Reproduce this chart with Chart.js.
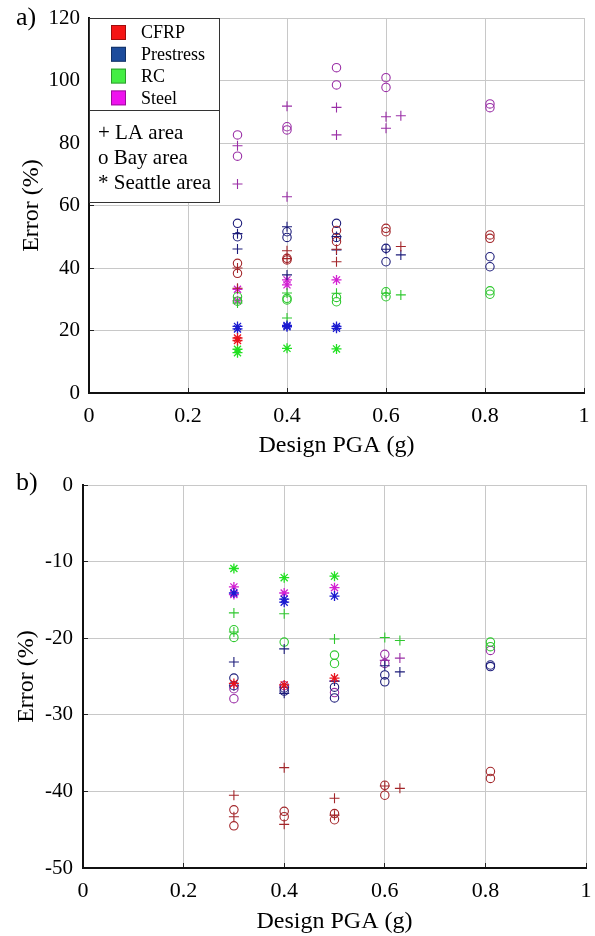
<!DOCTYPE html>
<html>
<head>
<meta charset="utf-8">
<script src="https://cdn.jsdelivr.net/npm/chart.js@4.4.0/dist/chart.umd.min.js"></script>
<style>
    body { margin: 0; background: #fff; }
    #wrap { position: relative; width: 595px; height: 936px; overflow: hidden; }
    canvas { position: absolute; left: 0; }
    #chartA { top: 0; }
    #chartB { top: 470px; }
    .panel { position: absolute; left: 16px; font-family: "Liberation Serif", "Times New Roman", serif; font-size: 26px; line-height: 1; color: #000; }
</style>
</head>
<body>
<div id="wrap">
    <canvas id="chartA" width="595" height="470"></canvas>
    <canvas id="chartB" width="595" height="466"></canvas>
    <div class="panel" style="top:4px">a)</div>
    <div class="panel" style="top:469px">b)</div>
</div>
<script>
// 軸刻度
const pgaTicks = [0, 0.2, 0.4, 0.6, 0.8, 1];
const errorTicksA = [0, 20, 40, 60, 80, 100, 120];
const errorTicksB = [-50, -40, -30, -20, -10, 0];

// 類別
const materials = ['CFRP', 'Prestress', 'RC', 'Steel'];
const areaLabels = ['+ LA area', 'o Bay area', '* Seattle area'];

// a) 誤差 (%) — [Design PGA, Error]
const aCfrpLA = [[0.3, 40], [0.3, 33.5], [0.4, 45.5], [0.4, 43], [0.5, 42], [0.5, 46], [0.63, 46.9]];
const aCfrpBay = [[0.3, 41.5], [0.3, 38.3], [0.4, 43.1], [0.4, 42.6], [0.5, 52], [0.5, 48.5], [0.6, 52.7], [0.6, 51.6], [0.81, 50.6], [0.81, 49.5]];
const aCfrpSea = [[0.3, 17.6], [0.3, 16.8]];
const aPreLA = [[0.3, 51], [0.3, 46.1], [0.4, 53.2], [0.4, 37.8], [0.5, 50.1], [0.5, 45.8], [0.6, 46], [0.63, 44.2]];
const aPreBay = [[0.3, 54.3], [0.3, 50], [0.4, 51.6], [0.4, 49.8], [0.5, 54.3], [0.5, 49.8], [0.6, 46.3], [0.6, 42], [0.81, 43.6], [0.81, 40.4]];
const aPreSea = [[0.3, 20.5], [0.3, 21.3], [0.4, 21.2], [0.4, 21.6], [0.5, 20.7], [0.5, 21.3]];
const aRcLA = [[0.3, 28.8], [0.4, 32], [0.4, 24], [0.5, 31.9], [0.6, 31.9], [0.63, 31.4]];
const aRcBay = [[0.3, 30.8], [0.3, 29.4], [0.4, 29.8], [0.4, 30.3], [0.5, 29.2], [0.5, 30.6], [0.6, 32.4], [0.6, 30.8], [0.81, 32.7], [0.81, 31.6]];
const aRcSea = [[0.3, 12.9], [0.3, 14], [0.4, 14.3], [0.5, 14.1]];
const aSteelLA = [[0.3, 79.1], [0.3, 66.9], [0.4, 91.8], [0.4, 62.8], [0.5, 91.4], [0.5, 82.6], [0.6, 88.4], [0.6, 84.7], [0.63, 88.7]];
const aSteelBay = [[0.3, 82.6], [0.3, 75.8], [0.4, 85.2], [0.4, 84.2], [0.5, 104.1], [0.5, 98.6], [0.6, 100.9], [0.6, 97.8], [0.81, 92.5], [0.81, 91.3]];
const aSteelSea = [[0.3, 33.2], [0.3, 29.5], [0.4, 36.2], [0.4, 34.6], [0.5, 36.2]];

// b) 誤差 (%)
const bCfrpLA = [[0.3, -40.5], [0.3, -43.3], [0.4, -36.9], [0.4, -44.3], [0.5, -40.9], [0.5, -43.1], [0.6, -39.3], [0.63, -39.6]];
const bCfrpBay = [[0.3, -42.4], [0.3, -44.5], [0.4, -42.6], [0.4, -43.3], [0.5, -42.9], [0.5, -43.7], [0.6, -39.2], [0.6, -40.5], [0.81, -37.4], [0.81, -38.3]];
const bCfrpSea = [[0.3, -25.9], [0.4, -26.1], [0.5, -25.2]];
const bPreLA = [[0.3, -23.1], [0.4, -27.2], [0.4, -21.4], [0.5, -25.6], [0.6, -23.6], [0.63, -24.4]];
const bPreBay = [[0.3, -25.2], [0.3, -26.2], [0.4, -26.5], [0.4, -26.9], [0.5, -26.4], [0.5, -27.8], [0.6, -24.8], [0.6, -25.7], [0.81, -23.5], [0.81, -23.7]];
const bPreSea = [[0.3, -14.1], [0.4, -14.9], [0.4, -15.3], [0.5, -14.5]];
const bRcLA = [[0.3, -16.7], [0.3, -19.2], [0.4, -16.8], [0.5, -20.1], [0.6, -19.9], [0.63, -20.3]];
const bRcBay = [[0.3, -18.9], [0.3, -19.9], [0.4, -20.5], [0.5, -22.2], [0.5, -23.3], [0.81, -20.5], [0.81, -21.1]];
const bRcSea = [[0.3, -10.9], [0.4, -12.1], [0.5, -11.9]];
const bSteelLA = [[0.3, -26.2], [0.4, -26.4], [0.5, -25.6], [0.6, -22.9], [0.63, -22.6]];
const bSteelBay = [[0.3, -26.6], [0.3, -27.9], [0.4, -26.2], [0.5, -27.1], [0.6, -22.1], [0.6, -23.3], [0.81, -21.6]];
const bSteelSea = [[0.3, -13.3], [0.3, -14.3], [0.4, -14.1], [0.5, -13.4]];

// 顏色
const legendColors = ['#f51515', '#1d4c9c', '#44ee44', '#ee12ee'];
const markColors = ['#a3262a', '#1c1c7a', '#2ec82e', '#9a2fa6'];
const starColors = ['#e8141c', '#1a1ad0', '#22e022', '#d21fd2'];
const pointStyles = ['cross', 'circle', 'star'];

const serif = '"Liberation Serif", "Times New Roman", serif';

function buildDatasets(groups) {
    const sets = [];
    groups.forEach((group, i) => {
        group.forEach((pts, j) => {
            const color = j === 2 ? starColors[i] : markColors[i];
            sets.push({
                label: materials[i] + ' ' + areaLabels[j],
                data: pts.map(p => ({ x: p[0], y: p[1] })),
                pointStyle: pointStyles[j],
                pointRadius: j === 1 ? 4.2 : 5,
                borderColor: color,
                backgroundColor: 'rgba(0,0,0,0)',
                pointBorderWidth: j === 2 ? 1.3 : 1.1,
                showLine: false
            });
        });
    });
    return sets;
}

// 圖例 (只畫在 a 圖)
const boxLegend = {
    id: 'boxLegend',
    afterDraw(chart) {
        const ctx = chart.ctx;
        const left = chart.chartArea.left;
        const top = chart.chartArea.top;
        ctx.save();
        ctx.fillStyle = '#fff';
        ctx.fillRect(left, top, 130, 184);
        ctx.strokeStyle = '#333';
        ctx.lineWidth = 1;
        ctx.strokeRect(left + 0.5, top + 0.5, 130, 184);
        ctx.beginPath();
        ctx.moveTo(left, top + 92.5);
        ctx.lineTo(left + 130, top + 92.5);
        ctx.stroke();

        ctx.textBaseline = 'middle';
        ctx.fillStyle = '#000';
        ctx.font = '18px ' + serif;
        materials.forEach((m, i) => {
            const cy = top + 14.5 + i * 21.8;
            ctx.fillStyle = legendColors[i];
            ctx.fillRect(left + 22, cy - 7.5, 15, 15);
            ctx.strokeStyle = 'rgba(0,0,0,0.35)';
            ctx.strokeRect(left + 22.5, cy - 7, 14, 14);
            ctx.fillStyle = '#000';
            ctx.fillText(m, left + 52, cy + 1);
        });
        ctx.font = '21px ' + serif;
        areaLabels.forEach((t, j) => {
            ctx.fillText(t, left + 9, top + 115 + j * 25);
        });
        ctx.restore();
    }
};

function makeChart(id, groups, yTicks, geom, extraPlugins) {
    return new Chart(document.getElementById(id), {
        type: 'scatter',
        data: { datasets: buildDatasets(groups) },
        options: {
            responsive: false,
            animation: false,
            devicePixelRatio: 1,
            layout: { padding: { top: geom.top, right: geom.right, left: 0, bottom: 0 } },
            plugins: { legend: { display: false }, tooltip: { enabled: false } },
            scales: {
                x: {
                    type: 'linear',
                    min: 0,
                    max: 1,
                    afterBuildTicks: s => { s.ticks = pgaTicks.map(v => ({ value: v })); },
                    afterFit: s => {
                        s.height = geom.xHeight;
                        s.paddingLeft = 0;
                        s.paddingRight = 0;
                    },
                    grid: {
                        color: c => c.index === 0 ? 'rgba(0,0,0,0)' : '#c8c8c8',
                        lineWidth: 1,
                        tickLength: -5,
                        tickColor: '#222',
                        tickWidth: 1
                    },
                    border: { color: '#111', width: 2 },
                    ticks: {
                        padding: 15,
                        color: '#000',
                        font: { family: serif, size: 22 },
                        maxRotation: 0,
                        callback: v => String(v)
                    },
                    title: {
                        display: true,
                        text: 'Design PGA (g)',
                        color: '#000',
                        font: { family: serif, size: 24 },
                        padding: { top: 0, bottom: geom.xTitlePad }
                    }
                },
                y: {
                    type: 'linear',
                    min: yTicks[0],
                    max: yTicks[yTicks.length - 1],
                    afterBuildTicks: s => { s.ticks = yTicks.map(v => ({ value: v })); },
                    afterFit: s => {
                        s.width = geom.yWidth;
                        s.paddingTop = 0;
                        s.paddingBottom = 0;
                    },
                    grid: {
                        color: c => c.index === 0 ? 'rgba(0,0,0,0)' : '#c8c8c8',
                        lineWidth: 1,
                        tickLength: -5,
                        tickColor: '#222',
                        tickWidth: 1
                    },
                    border: { color: '#111', width: 2 },
                    ticks: {
                        padding: geom.yTickPad,
                        color: '#000',
                        font: { family: serif, size: 21 },
                        callback: v => String(v)
                    },
                    title: {
                        display: true,
                        text: 'Error (%)',
                        color: '#000',
                        font: { family: serif, size: 24 },
                        padding: { top: geom.yTitlePad, bottom: 0 }
                    }
                }
            }
        },
        plugins: extraPlugins
    });
}

makeChart('chartA', [
    [aCfrpLA, aCfrpBay, aCfrpSea],
    [aPreLA, aPreBay, aPreSea],
    [aRcLA, aRcBay, aRcSea],
    [aSteelLA, aSteelBay, aSteelSea]
], errorTicksA, { top: 18, right: 11, xHeight: 77, yWidth: 89, yTickPad: 14, xTitlePad: 10, yTitlePad: 17.6 }, [boxLegend]);

makeChart('chartB', [
    [bCfrpLA, bCfrpBay, bCfrpSea],
    [bPreLA, bPreBay, bPreSea],
    [bRcLA, bRcBay, bRcSea],
    [bSteelLA, bSteelBay, bSteelSea]
], errorTicksB, { top: 15, right: 9, xHeight: 68, yWidth: 83, yTickPad: 15, xTitlePad: 0, yTitlePad: 12.6 }, []);
</script>
</body>
</html>
